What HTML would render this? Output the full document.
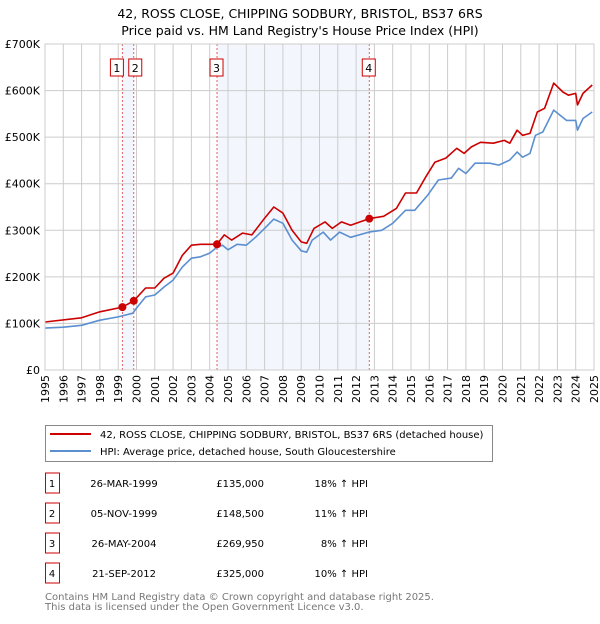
<!DOCTYPE html>
<html><head><meta charset="utf-8"><style>
body{margin:0;background:#fff;font-family:"DejaVu Sans","Liberation Sans",sans-serif}
svg text{font-family:"DejaVu Sans","Liberation Sans",sans-serif}
</style></head><body>
<svg id="c" width="600" height="620" xmlns="http://www.w3.org/2000/svg">
<text x="300" y="18" text-anchor="middle" font-size="12.5">42, ROSS CLOSE, CHIPPING SODBURY, BRISTOL, BS37 6RS</text>
<text x="300" y="35" text-anchor="middle" font-size="12.5">Price paid vs. HM Land Registry's House Price Index (HPI)</text>
<g id="plot"></g>
<g>
<rect x="45.5" y="425.5" width="447" height="36" fill="#fff" stroke="#888"/>
<line x1="50" y1="434" x2="91" y2="434" stroke="#cc0000" stroke-width="2"/>
<text x="100" y="438" font-size="10">42, ROSS CLOSE, CHIPPING SODBURY, BRISTOL, BS37 6RS (detached house)</text>
<line x1="50" y1="451" x2="91" y2="451" stroke="#5b8fd0" stroke-width="2"/>
<text x="100" y="455" font-size="10">HPI: Average price, detached house, South Gloucestershire</text>
</g>
<g id="tbl"></g>
<text x="45" y="600" font-size="10" fill="#777">Contains HM Land Registry data © Crown copyright and database right 2025.</text>
<text x="45" y="610" font-size="10" fill="#777">This data is licensed under the Open Government Licence v3.0.</text>
</svg>
<script>
const hpiYears=[1995,1996,1997,1998,1999,1999.8,2000,2000.5,2001,2001.5,2002,2002.5,2003,2003.5,2004,2004.4,2004.7,2005,2005.5,2006,2006.5,2007,2007.5,2008,2008.5,2009,2009.3,2009.6,2010.2,2010.6,2011.1,2011.7,2012.7,2013.4,2014,2014.7,2015.2,2015.9,2016.5,2017.2,2017.6,2018,2018.5,2019.3,2019.8,2020.4,2020.8,2021.1,2021.5,2021.8,2022.2,2022.8,2023.5,2024,2024.1,2024.4,2024.9];
const hpiValues=[90,92,96,107,114,122,133,157,161,178,193,221,240,243,251,264,268,258,270,268,285,304,324,315,279,256,253,279,296,279,296,285,296,300,315,343,343,375,408,412,433,422,444,444,440,451,468,457,465,504,511,558,536,536,515,540,554];
const priceYears=[1995,1997,1998,1999.23,1999.85,2000.5,2001,2001.5,2002,2002.5,2003,2003.5,2004.4,2004.8,2005.2,2005.8,2006.3,2007,2007.5,2008,2008.5,2009,2009.3,2009.7,2010.3,2010.7,2011.2,2011.7,2012.72,2013.5,2014.2,2014.7,2015.3,2015.8,2016.3,2016.9,2017.5,2017.9,2018.3,2018.8,2019.5,2020.1,2020.4,2020.8,2021.1,2021.5,2021.9,2022.3,2022.8,2023.3,2023.6,2024,2024.1,2024.4,2024.9];
const priceValues=[103,112,125,135,148.5,176,176,197,208,246,268,270,270,290,279,294,290,326,350,337,300,275,272,304,318,304,318,311,325,330,347,380,380,414,446,455,476,465,479,489,487,493,487,515,504,508,554,562,616,597,590,594,569,594,612];
const saleLabels=["1","2","3","4"];
const saleYears=[1999.23,1999.85,2004.4,2012.72];
const salePrices=[135,148.5,269.95,325];
const saleDates=["26-MAR-1999","05-NOV-1999","26-MAY-2004","21-SEP-2012"];
const salePriceText=["£135,000","£148,500","£269,950","£325,000"];
const saleHpi=["18% ↑ HPI","11% ↑ HPI","8% ↑ HPI","10% ↑ HPI"];
const yTicks=[0,100,200,300,400,500,600,700];
const yTickLabels=["£0","£100K","£200K","£300K","£400K","£500K","£600K","£700K"];
const xTicks=[];for(let y=1995;y<=2025;y++)xTicks.push(y);

const L=45,R=594,T=44,B=370;
const X=v=>L+(v-1995)/30*(R-L);
const Y=v=>B-v/700*(B-T);
const NS="http://www.w3.org/2000/svg";
const plot=document.getElementById('plot');
function mk(tag,attrs,parent){const e=document.createElementNS(NS,tag);for(const k in attrs)e.setAttribute(k,attrs[k]);(parent||plot).appendChild(e);return e;}
[[0,1],[2,3]].forEach(p=>{
 const r=mk('rect',{x:X(saleYears[p[0]]),y:T,width:X(saleYears[p[1]])-X(saleYears[p[0]]),height:B-T,fill:'#eef3fc',opacity:0.7});
 
 
});
xTicks.forEach(t=>{
 const l=mk('line',{x1:X(t),x2:X(t),y1:T,y2:B,stroke:'#ccc','stroke-width':1});
 
 
 const tx=X(t)+4;
 const el=mk('text',{x:tx,y:375,'text-anchor':'end','font-size':11,transform:'rotate(-90 '+tx+' 375)'});
 el.textContent=t;
 
 
});
yTicks.forEach((t,i)=>{
 const l=mk('line',{x1:L,x2:R,y1:Y(t),y2:Y(t),stroke:'#ccc','stroke-width':1});
 
 
 const tx=mk('text',{x:40,y:Y(t)+4,'text-anchor':'end','font-size':11});
 tx.textContent=yTickLabels[i];
 
 
});
saleYears.forEach((s,i)=>{
 const l=mk('line',{x1:X(s),x2:X(s),y1:T,y2:B,stroke:'#e06060','stroke-width':1,'stroke-dasharray':'2,2'});
 
 
});
function line(xs,vs,col,name){
 const d=xs.map((x,i)=>(i?'L':'M')+X(x).toFixed(1)+','+Y(vs[i]).toFixed(1)).join('');
 const p=mk('path',{d:d,fill:'none',stroke:col,'stroke-width':1.6,'stroke-linejoin':'round'});
 
 
}
line(hpiYears,hpiValues,'#5b8fd0','hpi-line');
line(priceYears,priceValues,'#cc0000','price-line');
saleYears.forEach((s,i)=>{
 const c=mk('circle',{cx:X(s),cy:Y(salePrices[i]),r:4,fill:'#cc0000'});
 
 
 let bx=X(s)-7;
 if(i===0)bx=X(s)-12; if(i===1)bx=X(s)-5;
 const r=mk('rect',{x:bx,y:59,width:13,height:17,fill:'#fff',stroke:'#cc0000','stroke-width':1});
 
 
 const t=mk('text',{x:bx+6.5,y:72,'text-anchor':'middle','font-size':11});
 t.textContent=saleLabels[i];
 
 
});
const bd=mk('rect',{x:L,y:T,width:R-L,height:B-T,fill:'none',stroke:'#ccc'});


const tbl=document.getElementById('tbl');
const rowsY=[483,513,543,573];
saleLabels.forEach((lab,i)=>{
 const y=rowsY[i];
 const r=mk('rect',{x:45.5,y:y-10,width:14,height:20,fill:'#fff',stroke:'#cc0000'},tbl);
 
 
 const vals=[[52,lab,'middle'],[124,saleDates[i],'middle'],[264,salePriceText[i],'end'],[368,saleHpi[i],'end']];
 vals.forEach(v=>{
  const t=mk('text',{x:v[0],y:y+4,'text-anchor':v[2],'font-size':10},tbl);
  t.textContent=v[1];
  
  
 });
});
</script>
</body></html>
